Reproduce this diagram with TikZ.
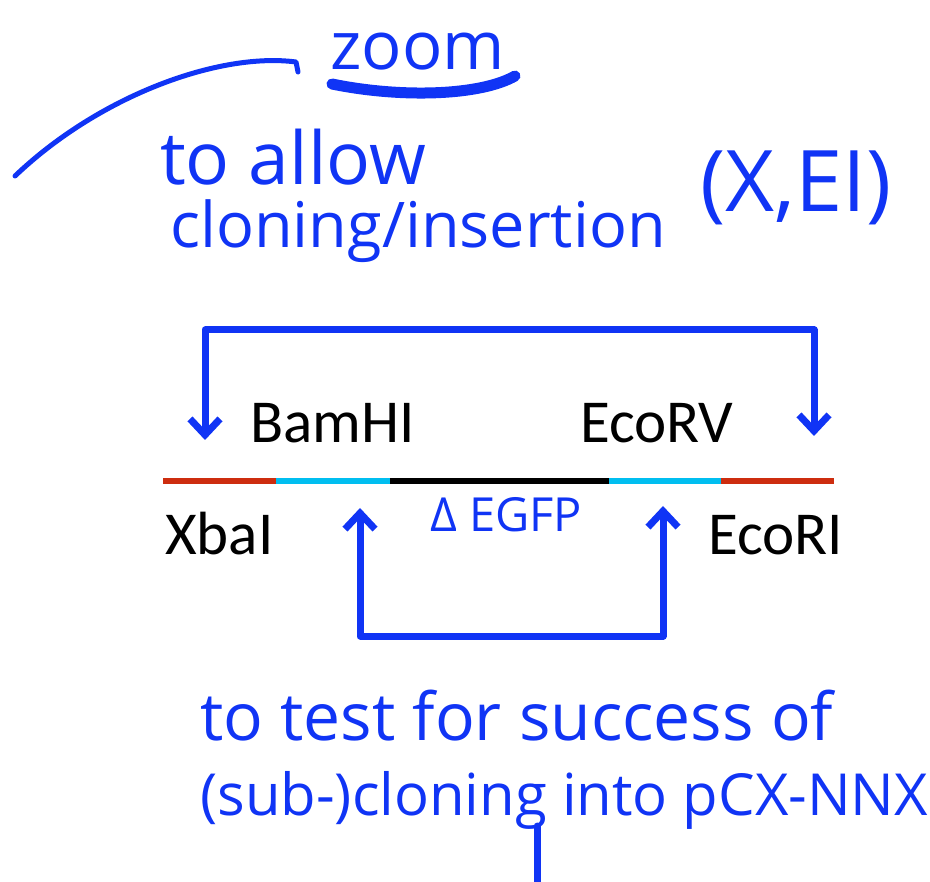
\documentclass[tikz,border=0pt]{standalone}
\usepackage{fontspec}
\setmainfont{Carlito}
\newfontfamily\handfont{Open Sans}
\usetikzlibrary{arrows.meta,calc}
\definecolor{pen}{RGB}{16,52,245}
\definecolor{siteRed}{RGB}{205,45,15}
\definecolor{siteCyan}{RGB}{0,190,240}
\newcommand{\handsize}[1]{\handfont\fontsize{#1}{#1}\selectfont}
\tikzset{
  ink/.style={pen,line width=7pt,line cap=round,line join=round},
  bracket/.style={ink,{Straight Barb[length=16pt,width=30pt]}-{Straight Barb[length=16pt,width=30pt]}},
  site/.style={font=\fontsize{61}{70}\selectfont,inner sep=0pt,anchor=base west},
  note/.style={pen,font=\handsize{60},inner sep=0pt,anchor=base west},
  seg/.style={line width=6pt}
}

\begin{document}
\begin{tikzpicture}[x=1pt,y=-1pt]
    \useasboundingbox (0,0) rectangle (930,882);

    % the construct
    \coordinate (s0) at (163,481);
    \coordinate (s1) at (276,481);
    \coordinate (s2) at (390,481);
    \coordinate (s3) at (609,481);
    \coordinate (s4) at (721,481);
    \coordinate (s5) at (834,481);
    \draw[seg,siteRed] (s0) -- (s1);
    \draw[seg,siteCyan] (s1) -- (s2);
    \draw[seg,black] (s2) -- (s3);
    \draw[seg,siteCyan] (s3) -- (s4);
    \draw[seg,siteRed] (s4) -- (s5);

    \node[site] (bam) at (250,443) {BamHI};
    \node[site] (ecorv) at (580,443) {EcoRV};
    \node[site] (xba) at (165,555) {XbaI};
    \node[site] (ecori) at (708,555) {EcoRI};

    % handwritten notes
    \node[note,font=\handsize{67}] (zoom) at (330,70) {zoom};
    \draw[ink,line width=11pt] (332,84) .. controls (400,98) and (480,96) .. (515,76);
    \draw[ink,line width=5pt] (15,176) .. controls (100,95) and (220,52) .. (296,62) -- (298,72);
    \node[note,font=\handsize{73}] (allow) at (160,185) {to allow};
    \node[note,font=\handsize{63}] (cloning) at (170,248) {cloning/insertion};
    \node[note,font=\handsize{85}] (sites) at (700,212) {(X,EI)};
    \node[note,font=\handsize{47}] (egfp) at (430,532) {Δ EGFP};

    \coordinate (xbaSite) at (205,440);
    \coordinate (ecoriSite) at (814,436);
    \coordinate (topMid) at (510,330);
    \draw[bracket] (xbaSite) |- (topMid) -| (ecoriSite);

    \coordinate (bamSite) at (360,508);
    \coordinate (ecorvSite) at (663,506);
    \coordinate (botMid) at (510,636);
    \draw[bracket] (bamSite) |- (botMid) -| (ecorvSite);

    \node[note,font=\handsize{66}] (test) at (200,740) {to test for success of};
    \node[note,font=\handsize{58}] (sub) at (200,815) {(sub-)cloning into pCX-NNX};
    \coordinate (tail) at (537,882);
    \draw[ink] (537,826) -- (tail);
\end{tikzpicture}
\end{document}
